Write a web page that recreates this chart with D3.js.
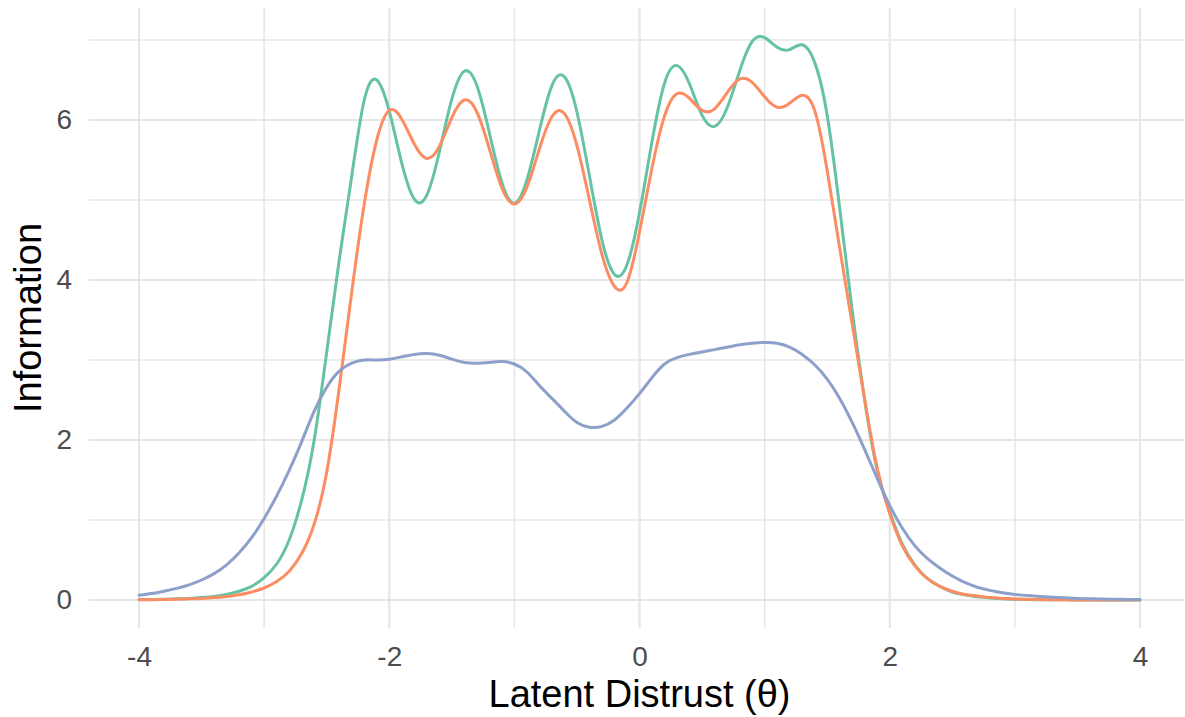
<!DOCTYPE html>
<html><head><meta charset="utf-8">
<script src="https://cdn.jsdelivr.net/npm/d3@7"></script>
<style>body{margin:0;background:#fff}svg{display:block}</style>
</head><body><svg id="c" width="1185" height="717"></svg>
<script>
const theta = [-4.0,-3.9,-3.8,-3.7,-3.6,-3.5,-3.4,-3.3,-3.2,-3.1,
  -3.0,-2.9,-2.8,-2.7,-2.6,-2.5,-2.4,-2.3,-2.2,-2.1,
  -2.0,-1.9,-1.8,-1.7,-1.6,-1.5,-1.4,-1.3,-1.2,-1.1,
  -1.0,-0.9,-0.8,-0.7,-0.6,-0.5,-0.4,-0.3,-0.2,-0.1,
  0.0,0.1,0.2,0.3,0.4,0.5,0.6,0.7,0.8,0.9,
  1.0,1.1,1.2,1.3,1.4,1.5,1.6,1.7,1.8,1.9,
  2.0,2.1,2.2,2.3,2.4,2.5,2.6,2.7,2.8,2.9,
  3.0,3.1,3.2,3.3,3.4,3.5,3.6,3.7,3.8,3.9,4.0];
const infoGreen = [0.005,0.007,0.01,0.015,0.02,0.03,0.045,0.07,0.11,0.17,
  0.28,0.45,0.75,1.25,2.0,3.1,4.25,5.3,6.25,6.5,
  6.11,5.46,5.01,5.06,5.6,6.26,6.61,6.43,5.84,5.22,
  4.96,5.25,5.87,6.43,6.54,6.1,5.3,4.5,4.07,4.19,
  4.84,5.73,6.46,6.68,6.45,6.06,5.92,6.15,6.61,6.98,
  7.03,6.91,6.88,6.94,6.72,6.06,4.9,3.62,2.5,1.62,
  1.1,0.7,0.44,0.27,0.17,0.1,0.065,0.04,0.025,0.015,
  0.01,0.006,0.004,0.003,0.002,0.001,0.001,0.001,0.001,0.001,0.001];
const infoOrange = [0.003,0.004,0.006,0.01,0.015,0.02,0.03,0.045,0.065,0.1,
  0.15,0.23,0.36,0.58,0.95,1.6,2.65,3.85,4.95,5.75,
  6.12,6.01,5.7,5.52,5.67,6.03,6.25,6.1,5.64,5.15,
  4.95,5.16,5.64,6.04,6.08,5.68,5.0,4.32,3.92,3.97,
  4.6,5.4,6.05,6.33,6.27,6.12,6.14,6.34,6.51,6.47,
  6.29,6.16,6.21,6.31,6.12,5.37,4.4,3.45,2.5,1.65,
  1.08,0.68,0.43,0.27,0.17,0.11,0.07,0.05,0.03,0.02,
  0.012,0.008,0.005,0.003,0.002,0.001,0.001,0.001,0.001,0.001,0.001];
const infoBlue = [0.06,0.08,0.11,0.145,0.19,0.25,0.33,0.44,0.59,0.78,
  1.02,1.3,1.62,1.98,2.36,2.66,2.86,2.96,3.0,3.0,
  3.01,3.04,3.07,3.08,3.06,3.01,2.97,2.96,2.97,2.98,
  2.95,2.85,2.68,2.52,2.36,2.22,2.16,2.17,2.25,2.4,
  2.58,2.78,2.95,3.03,3.07,3.1,3.13,3.16,3.19,3.21,
  3.22,3.21,3.16,3.07,2.94,2.76,2.52,2.22,1.88,1.52,
  1.18,0.9,0.68,0.52,0.4,0.3,0.22,0.16,0.12,0.09,
  0.07,0.055,0.045,0.035,0.027,0.02,0.015,0.012,0.009,0.007,0.005];
const seriesColors = ["#66c2a5", "#fc8d62", "#8da0cb"];
const xTicks = [-4, -2, 0, 2, 4];
const xMinor = [-3, -1, 1, 3];
const yTicks = [0, 2, 4, 6];
const yMinor = [1, 3, 5, 7];
const xTitle = "Latent Distrust (θ)";
const yTitle = "Information";

const svg = d3.select("#c");
const x = d3.scaleLinear().domain([-4.4, 4.4]).range([89, 1190]);
const y = d3.scaleLinear().domain([-0.35, 7.4]).range([628, 8]);
const [px0, px1] = x.range();
const [py0, py1] = y.range();
const gridCol = "#e6e6e6";

const grid = svg.append("g");
grid.selectAll(".hm").data(yMinor).join("line")
  .attr("x1", px0).attr("x2", px1).attr("y1", d => y(d)).attr("y2", d => y(d))
  .attr("stroke", gridCol).attr("stroke-width", 1.5);
grid.selectAll(".vm").data(xMinor).join("line")
  .attr("y1", py0).attr("y2", py1).attr("x1", d => x(d)).attr("x2", d => x(d))
  .attr("stroke", gridCol).attr("stroke-width", 1.5);
grid.selectAll(".hM").data(yTicks).join("line")
  .attr("x1", px0).attr("x2", px1).attr("y1", d => y(d)).attr("y2", d => y(d))
  .attr("stroke", gridCol).attr("stroke-width", 2.2);
grid.selectAll(".vM").data(xTicks).join("line")
  .attr("y1", py0).attr("y2", py1).attr("x1", d => x(d)).attr("x2", d => x(d))
  .attr("stroke", gridCol).attr("stroke-width", 2.2);

const line = d3.line().x(d => x(d[0])).y(d => y(d[1])).curve(d3.curveNatural);
[infoGreen, infoOrange, infoBlue].forEach((vals, i) => {
  svg.append("path").datum(theta.map((t, j) => [t, vals[j]]))
    .attr("d", line).attr("fill", "none")
    .attr("stroke", seriesColors[i]).attr("stroke-width", 3)
    .attr("stroke-linejoin", "round").attr("stroke-linecap", "round");
});

const font = "'Liberation Sans', Arial, sans-serif";
const fmt = d => String(d);
const xAxis = svg.append("g").attr("transform", `translate(0,${py0 + 9})`)
  .call(d3.axisBottom(x).tickValues(xTicks).tickSize(0).tickPadding(9).tickFormat(fmt));
xAxis.select(".domain").remove();
xAxis.selectAll("text").attr("font-family", font).attr("font-size", 28).attr("fill", "#4d4d4d");

const yAxis = svg.append("g").attr("transform", `translate(${px0 - 17},0)`)
  .call(d3.axisLeft(y).tickValues(yTicks).tickSize(0).tickPadding(0).tickFormat(fmt));
yAxis.select(".domain").remove();
yAxis.selectAll("text").attr("font-family", font).attr("font-size", 28).attr("fill", "#4d4d4d");

svg.append("text").attr("x", (px0 + px1) / 2).attr("y", 707)
  .attr("text-anchor", "middle").attr("font-family", font).attr("font-size", 38)
  .attr("fill", "#000").text(xTitle);
svg.append("text").attr("transform", `translate(41,${(py0 + py1) / 2}) rotate(-90)`)
  .attr("text-anchor", "middle").attr("font-family", font).attr("font-size", 38)
  .attr("fill", "#000").text(yTitle);
</script></body></html>
